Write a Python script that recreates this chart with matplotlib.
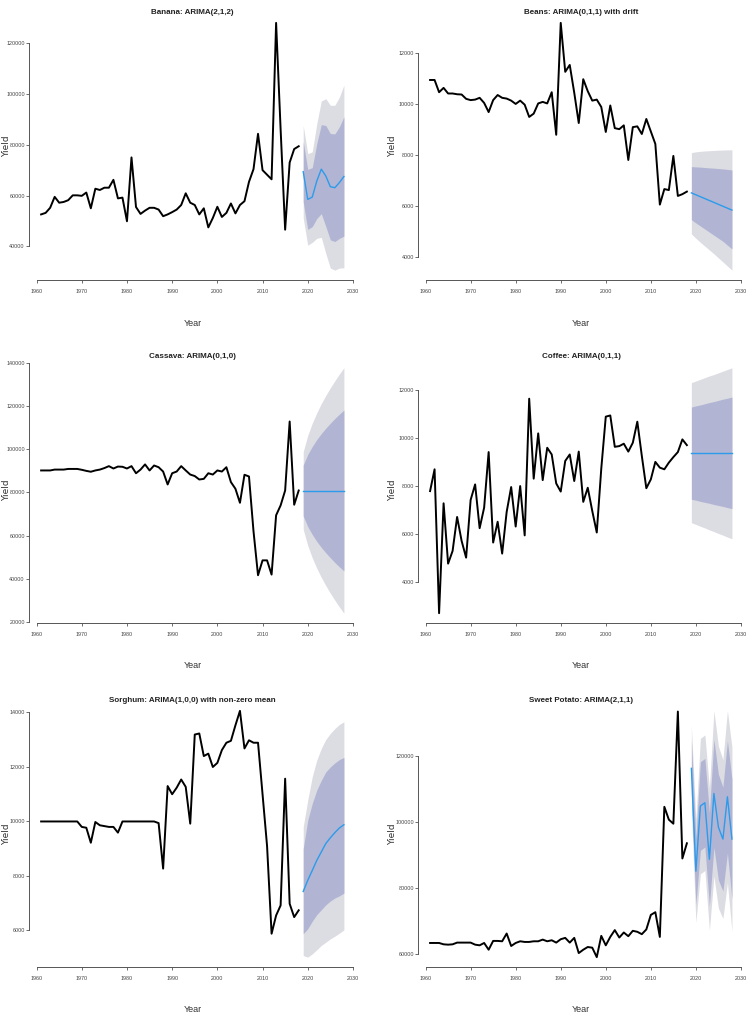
import numpy as np
import matplotlib
matplotlib.use('Agg')
import matplotlib.pyplot as plt
from matplotlib import font_manager

# Historical years and forecast horizon
years = list(range(1961, 2019))
fc_years = list(range(2019, 2029))

# ---- Banana: ARIMA(2,1,2)
banana = [52600, 53200, 55200, 59500, 57200, 57500, 58200, 60100, 60100, 59900,
          61200, 55000, 62700, 62200, 63100, 63100, 66200, 58900, 59200, 49900,
          75000, 55500, 52800, 54100, 55200, 55200, 54500, 51900, 52600, 53500,
          54500, 56300, 60900, 57200, 56300, 52600, 55000, 47500, 51200, 55600,
          51600, 53200, 56900, 53000, 56300, 57800, 65400, 70400, 84300, 70000,
          68200, 66400, 127900, 86000, 46600, 73000, 78300, 79400]
banana_fc = [69400, 58500, 59400, 65700, 70400, 67700, 63500, 63100, 65100, 67500]
banana_hi80 = [81200, 70300, 71000, 80400, 87900, 87550, 84400, 84260, 87040, 90940]
banana_lo80 = [57600, 46700, 47800, 51000, 52900, 47850, 42600, 41940, 43160, 44060]
banana_hi95 = [87500, 76500, 77200, 88200, 97200, 98100, 95500, 95500, 98700, 103400]
banana_lo95 = [51300, 40500, 41600, 43200, 43600, 37300, 31500, 30700, 31500, 31600]

# ---- Beans: ARIMA(0,1,1) with drift
beans = [10960, 10960, 10480, 10650, 10430, 10430, 10400, 10390, 10220, 10170,
         10190, 10260, 10060, 9700, 10170, 10370, 10260, 10230, 10150, 10020,
         10150, 9990, 9510, 9640, 10040, 10100, 10040, 10480, 8810, 13200,
         11280, 11550, 10460, 9270, 10990, 10520, 10150, 10190, 9900, 8920,
         9960, 9070, 9030, 9180, 7820, 9110, 9140, 8840, 9430, 8940,
         8450, 6070, 6680, 6640, 7980, 6410, 6480, 6580]
beans_fc = [6530, 6455, 6380, 6305, 6230, 6155, 6080, 6005, 5930, 5855]
beans_hi80 = [7560, 7550, 7540, 7525, 7510, 7500, 7485, 7470, 7450, 7430]
beans_lo80 = [5480, 5350, 5230, 5110, 4990, 4870, 4750, 4630, 4480, 4330]
beans_hi95 = [8110, 8140, 8160, 8175, 8185, 8195, 8205, 8210, 8215, 8220]
beans_lo95 = [4920, 4750, 4590, 4440, 4290, 4140, 3980, 3820, 3660, 3500]

# ---- Cassava: ARIMA(0,1,0)
cassava = [90200, 90200, 90200, 90600, 90600, 90600, 90900, 90900, 90900, 90500,
           90000, 89600, 90200, 90600, 91300, 92200, 91100, 92000, 91900, 91100,
           92200, 88900, 90600, 93000, 90200, 92500, 91700, 89700, 83700, 88900,
           89700, 92200, 90200, 88300, 87600, 86000, 86300, 88900, 88300, 90200,
           89700, 91700, 84800, 81700, 75200, 88200, 87400, 62000, 41600, 48500,
           48500, 41900, 69400, 74000, 80900, 112900, 74300, 80900]
cassava_fc = [80900, 80900, 80900, 80900, 80900, 80900, 80900, 80900, 80900, 80900]
cassava_hi80 = [92700, 97600, 101300, 104500, 107300, 109800, 112100, 114300, 116300, 118200]
cassava_lo80 = [69100, 64200, 60500, 57300, 54500, 52000, 49700, 47500, 45500, 43600]
cassava_hi95 = [98900, 106400, 112100, 116900, 121200, 125000, 128500, 131800, 134900, 137800]
cassava_lo95 = [62900, 55400, 49700, 44900, 40600, 36800, 33300, 30000, 26900, 24000]

# ---- Coffee: ARIMA(0,1,1)
coffee = [7780, 8690, 2680, 7270, 4750, 5280, 6700, 5700, 5000, 7410,
          8060, 6230, 7090, 9410, 5630, 6500, 5170, 6910, 7950, 6300,
          7990, 5930, 11640, 8300, 10190, 8240, 9590, 9310, 8100, 7760,
          9040, 9310, 8200, 9430, 7330, 7920, 6950, 6050, 8720, 10890,
          10940, 9630, 9660, 9760, 9430, 9800, 10680, 9250, 7900, 8270,
          9000, 8760, 8690, 8970, 9200, 9410, 9940, 9700]
coffee_fc = [9380, 9380, 9380, 9380, 9380, 9380, 9380, 9380, 9380, 9380]
coffee_hi80 = [11290, 11340, 11380, 11430, 11480, 11520, 11570, 11620, 11660, 11710]
coffee_lo80 = [7440, 7400, 7350, 7310, 7270, 7220, 7180, 7140, 7090, 7050]
coffee_hi95 = [12310, 12380, 12450, 12520, 12590, 12650, 12720, 12790, 12860, 12930]
coffee_lo95 = [6460, 6390, 6310, 6240, 6160, 6090, 6010, 5940, 5860, 5790]

# ---- Sorghum: ARIMA(1,0,0) with non-zero mean
sorghum = [10000, 10000, 10000, 10000, 10000, 10000, 10000, 10000, 10000, 9800,
           9770, 9220, 9980, 9860, 9830, 9800, 9800, 9590, 10000, 10000,
           10000, 10000, 10000, 10000, 10000, 10000, 9940, 8270, 11300, 11000,
           11240, 11540, 11270, 9920, 13190, 13230, 12400, 12490, 12000, 12150,
           12620, 12890, 12960, 13530, 14060, 12680, 12980, 12890, 12890, 11000,
           9100, 5880, 6550, 6920, 11570, 6980, 6490, 6740]
sorghum_fc = [7430, 7840, 8200, 8570, 8880, 9190, 9400, 9590, 9760, 9880]
sorghum_hi80 = [9000, 10040, 10660, 11150, 11510, 11820, 12000, 12150, 12270, 12350]
sorghum_lo80 = [5880, 6060, 6340, 6580, 6760, 6940, 7080, 7190, 7270, 7370]
sorghum_hi95 = [9800, 10780, 11640, 12250, 12680, 13010, 13230, 13410, 13560, 13660]
sorghum_lo95 = [5080, 5020, 5140, 5290, 5450, 5570, 5690, 5790, 5900, 6020]

# ---- Sweet Potato: ARIMA(2,1,1)
sweet_potato = [63470, 63470, 63470, 63060, 62960, 63060, 63580, 63580, 63580, 63580,
                62960, 62760, 63470, 61430, 64090, 64090, 63980, 66330, 62550, 63470,
                63980, 63780, 63780, 63980, 63980, 64490, 63980, 64290, 63580, 64600,
                65010, 63580, 65010, 60410, 61430, 62250, 62040, 59180, 65620, 62760,
                65310, 67360, 65110, 66640, 65520, 67150, 66850, 66130, 67560, 71960,
                72780, 65310, 104670, 100780, 99560, 133490, 89030, 93630]
sweet_potato_fc = [116300, 85200, 104900, 105900, 88800, 108700, 98500, 94900, 107700, 94900]
sweet_potato_hi80 = [124700, 95300, 118300, 119300, 102900, 125100, 114500, 110600, 124700, 113100]
sweet_potato_lo80 = [107900, 75100, 91500, 92500, 74700, 92400, 82500, 79200, 90700, 76700]
sweet_potato_hi95 = [129100, 100700, 125400, 126400, 110300, 133700, 123000, 118900, 133700, 122700]
sweet_potato_lo95 = [103500, 69700, 84400, 85400, 67300, 83700, 74000, 70900, 81700, 67100]

titles = ['Banana: ARIMA(2,1,2)', 'Beans: ARIMA(0,1,1) with drift',
          'Cassava: ARIMA(0,1,0)', 'Coffee: ARIMA(0,1,1)',
          'Sorghum: ARIMA(1,0,0) with non-zero mean', 'Sweet Potato: ARIMA(2,1,1)']
yticks = [[40000, 60000, 80000, 100000, 120000],
          [4000, 6000, 8000, 10000, 12000],
          [20000, 40000, 60000, 80000, 100000, 120000, 140000],
          [4000, 6000, 8000, 10000, 12000],
          [6000, 8000, 10000, 12000, 14000],
          [60000, 80000, 100000, 120000]]
xticks = [1960, 1970, 1980, 1990, 2000, 2010, 2020, 2030]

panels = [
    (banana, banana_fc, banana_lo80, banana_hi80, banana_lo95, banana_hi95),
    (beans, beans_fc, beans_lo80, beans_hi80, beans_lo95, beans_hi95),
    (cassava, cassava_fc, cassava_lo80, cassava_hi80, cassava_lo95, cassava_hi95),
    (coffee, coffee_fc, coffee_lo80, coffee_hi80, coffee_lo95, coffee_hi95),
    (sorghum, sorghum_fc, sorghum_lo80, sorghum_hi80, sorghum_lo95, sorghum_hi95),
    (sweet_potato, sweet_potato_fc, sweet_potato_lo80, sweet_potato_hi80,
     sweet_potato_lo95, sweet_potato_hi95),
]

# colours
col_95 = '#DCDCE3'
col_80 = '#B1B5D3'
col_fc = '#2C9BEB'
col_axis = '#555555'

# the reference uses a squeezed font; use a narrow one if there is one
font_names = {f.name for f in font_manager.fontManager.ttflist}
if 'Liberation Sans Narrow' in font_names:
    narrow = ['Liberation Sans Narrow', 'DejaVu Sans']
    k = 1.0
else:
    narrow = ['Liberation Sans', 'DejaVu Sans']
    k = 0.88

W, H = 748, 1019
fig = plt.figure(figsize=(W / 100, H / 100), dpi=100)
fig.patch.set_facecolor('white')

# plot regions in pixels (top, bottom) per row, (left, right) per column
rows = [(13, 280), (358, 623), (701, 967)]
cols = [(29, 356), (418, 744)]
ylab_x = [6.5, 393]


def fx(x):
    return x / W


def fy(y):
    return 1 - y / H


for i, (hist, fc, lo80, hi80, lo95, hi95) in enumerate(panels):
    top, bot = rows[i // 2]
    left, right = cols[i % 2]
    ax = fig.add_axes([fx(left), fy(bot), (right - left) / W, (bot - top) / H])

    ax.fill_between(fc_years, lo95, hi95, color=col_95, lw=0)
    ax.fill_between(fc_years, lo80, hi80, color=col_80, lw=0)
    ax.plot(years, hist, color='black', lw=1.4)
    ax.plot(fc_years, fc, color=col_fc, lw=1.0)

    # R style limits: data range + 4%
    lo = min(min(hist), min(lo95))
    hi = max(max(hist), max(hi95))
    pad = 0.04 * (hi - lo)
    ax.set_ylim(lo - pad, hi + pad)
    ax.set_xlim(1961 - 0.04 * 67, 2028 + 0.04 * 67)

    for s in ['top', 'right']:
        ax.spines[s].set_visible(False)
    for s in ['left', 'bottom']:
        ax.spines[s].set_color(col_axis)
        ax.spines[s].set_linewidth(0.7)
    ax.spines['bottom'].set_bounds(xticks[0], xticks[-1])
    ax.spines['left'].set_bounds(yticks[i][0], yticks[i][-1])

    ax.set_xticks(xticks)
    ax.set_xticklabels([str(t) for t in xticks])
    ax.set_yticks(yticks[i])
    ax.set_yticklabels([str(t) for t in yticks[i]])
    ax.tick_params(direction='out', length=2.2, width=0.6, color=col_axis,
                   labelsize=4.4 * k, labelcolor='#444444')
    ax.tick_params(axis='x', pad=4)
    ax.tick_params(axis='y', pad=0.8)
    for lab in ax.get_xticklabels() + ax.get_yticklabels():
        lab.set_family(narrow)
    ax.patch.set_alpha(0)

    cx = (left + right) / 2
    fig.text(fx(cx), fy(top - 1), titles[i], ha='center', va='center',
             fontsize=6.6 * k, fontweight='bold', family=narrow, color='#222222')
    fig.text(fx(cx), fy(bot + 43), 'Year', ha='center', va='center',
             fontsize=7.4 * k, family=narrow, color='#333333')
    fig.text(fx(ylab_x[i % 2]), fy((top + bot) / 2), 'Yield', ha='center', va='center',
             rotation=90, fontsize=6.5, color='#333333')

fig.savefig('out.png', dpi=100, facecolor='white')
